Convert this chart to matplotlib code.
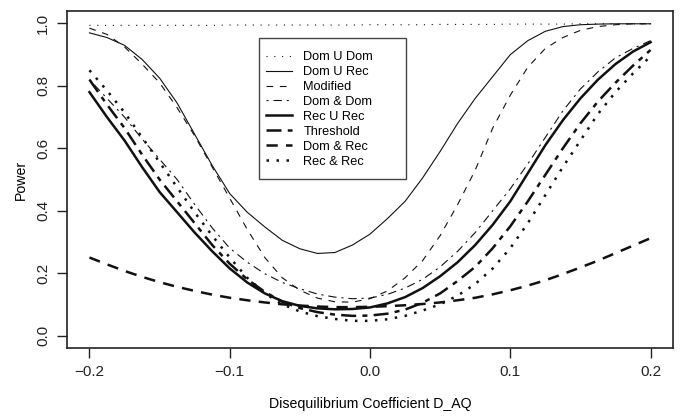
import numpy as np
import matplotlib
matplotlib.use("Agg")
import matplotlib.pyplot as plt
from matplotlib.patches import Rectangle

plt.rcParams['font.family'] = ['Liberation Sans', 'DejaVu Sans']

# disequilibrium coefficient grid (step 0.0125)
d_aq = [-0.2, -0.1875, -0.175, -0.1625, -0.15, -0.1375, -0.125, -0.1125,
        -0.1, -0.0875, -0.075, -0.0625, -0.05, -0.0375, -0.025, -0.0125,
        0.0, 0.0125, 0.025, 0.0375, 0.05, 0.0625, 0.075, 0.0875,
        0.1, 0.1125, 0.125, 0.1375, 0.15, 0.1625, 0.175, 0.1875, 0.2]

dom_u_dom = [0.994, 0.994, 0.994, 0.994, 0.994, 0.994, 0.994, 0.994,
             0.995, 0.995, 0.995, 0.995, 0.995, 0.995, 0.995, 0.995,
             0.996, 0.996, 0.996, 0.996, 0.997, 0.997, 0.997, 0.997,
             0.998, 0.998, 0.998, 0.998, 0.999, 0.999, 0.999, 0.999, 0.999]
dom_u_rec = [0.97, 0.955, 0.93, 0.885, 0.825, 0.745, 0.645, 0.545,
             0.455, 0.395, 0.348, 0.305, 0.278, 0.263, 0.266, 0.29,
             0.325, 0.375, 0.43, 0.505, 0.59, 0.68, 0.76, 0.83,
             0.90, 0.945, 0.975, 0.99, 0.996, 0.998, 0.999, 0.999, 0.999]
modified = [0.985, 0.965, 0.925, 0.87, 0.81, 0.73, 0.64, 0.54,
            0.44, 0.34, 0.25, 0.185, 0.145, 0.12, 0.108, 0.107,
            0.118, 0.143, 0.185, 0.24, 0.32, 0.42, 0.53, 0.665,
            0.77, 0.86, 0.92, 0.955, 0.978, 0.99, 0.996, 0.999, 0.999]
dom_and_dom = [0.82, 0.76, 0.70, 0.63, 0.565, 0.50, 0.42, 0.345,
               0.28, 0.235, 0.198, 0.17, 0.15, 0.133, 0.123, 0.118,
               0.12, 0.132, 0.152, 0.18, 0.22, 0.27, 0.33, 0.40,
               0.47, 0.55, 0.635, 0.72, 0.79, 0.845, 0.89, 0.92, 0.945]
rec_u_rec = [0.78, 0.70, 0.625, 0.54, 0.46, 0.395, 0.33, 0.27,
             0.215, 0.17, 0.135, 0.11, 0.095, 0.087, 0.084, 0.085,
             0.09, 0.103, 0.123, 0.152, 0.19, 0.235, 0.29, 0.355,
             0.43, 0.52, 0.61, 0.69, 0.76, 0.82, 0.87, 0.91, 0.94]
threshold = [0.82, 0.74, 0.665, 0.58, 0.50, 0.43, 0.36, 0.29,
             0.23, 0.18, 0.14, 0.108, 0.088, 0.075, 0.067, 0.063,
             0.064, 0.07, 0.083, 0.105, 0.135, 0.175, 0.22, 0.28,
             0.35, 0.43, 0.515, 0.60, 0.68, 0.75, 0.81, 0.865, 0.915]
dom_and_rec = [0.25, 0.228, 0.207, 0.188, 0.171, 0.156, 0.143, 0.131,
               0.121, 0.113, 0.106, 0.10, 0.096, 0.093, 0.091, 0.091,
               0.092, 0.094, 0.097, 0.101, 0.106, 0.113, 0.121, 0.132,
               0.145, 0.16, 0.177, 0.197, 0.218, 0.24, 0.264, 0.288, 0.312]
rec_and_rec = [0.85, 0.785, 0.715, 0.635, 0.555, 0.475, 0.395, 0.32,
               0.25, 0.185, 0.135, 0.10, 0.077, 0.062, 0.053, 0.047,
               0.047, 0.052, 0.063, 0.08, 0.10, 0.128, 0.165, 0.215,
               0.28, 0.36, 0.45, 0.54, 0.625, 0.71, 0.78, 0.84, 0.895]

names = ['Dom U Dom', 'Dom U Rec', 'Modified', 'Dom & Dom',
         'Rec U Rec', 'Threshold', 'Dom & Rec', 'Rec & Rec']
series = [dom_u_dom, dom_u_rec, modified, dom_and_dom,
          rec_u_rec, threshold, dom_and_rec, rec_and_rec]
# R style lty / lwd
styles = [
    dict(ls=(0, (1, 6)), lw=0.8),
    dict(ls='-', lw=0.8),
    dict(ls=(0, (6, 6)), lw=0.8),
    dict(ls=(0, (1.9, 4.4, 7.5, 4.4)), lw=0.8),
    dict(ls='-', lw=1.8),
    dict(ls=(0, (6, 2.5, 2, 2.5)), lw=1.8),
    dict(ls=(0, (4.5, 3.3)), lw=1.8),
    dict(ls=(0, (1, 3)), lw=1.8),
]

fig = plt.figure(figsize=(6.85, 4.18), dpi=100)
ax = fig.add_axes([67 / 685, 1 - 348 / 418, 606 / 685, 337 / 418])

for name, vals, st in zip(names, series, styles):
    ax.plot(d_aq, vals, color='#111111', label=name, **st)

ax.set_xlim(-0.216, 0.216)
ax.set_ylim(-0.04, 1.04)
ax.set_xticks([-0.2, -0.1, 0.0, 0.1, 0.2])
ax.set_xticklabels(['\u22120.2', '\u22120.1', '0.0', '0.1', '0.2'])
ax.set_yticks([0.0, 0.2, 0.4, 0.6, 0.8, 1.0])
ax.set_yticklabels(['0.0', '0.2', '0.4', '0.6', '0.8', '1.0'],
                   rotation=90, va='center')
ax.tick_params(direction='out', length=7, width=1, colors='#222222',
               labelsize=11, pad=5)
for sp in ax.spines.values():
    sp.set_linewidth(1.2)
    sp.set_color('#222222')

ax.set_xlabel('Disequilibrium Coefficient D_AQ', fontsize=10.2, labelpad=13)
ax.set_ylabel('Power', fontsize=10.2, labelpad=6)

# legend box drawn by hand (R style, extra room on the right)
box = Rectangle((0.317, 0.5015), 0.2426, 0.4184, transform=ax.transAxes,
                facecolor='white', edgecolor='#444444', linewidth=1.0,
                zorder=3)
ax.add_patch(box)
leg = ax.legend(loc='upper left', bbox_to_anchor=(0.329, 0.881),
                fontsize=9.2, frameon=False, handlelength=2.0,
                handletextpad=0.9, labelspacing=0.23, borderpad=0,
                borderaxespad=0)
leg.set_zorder(4)

fig.savefig('out.png', dpi=100)
